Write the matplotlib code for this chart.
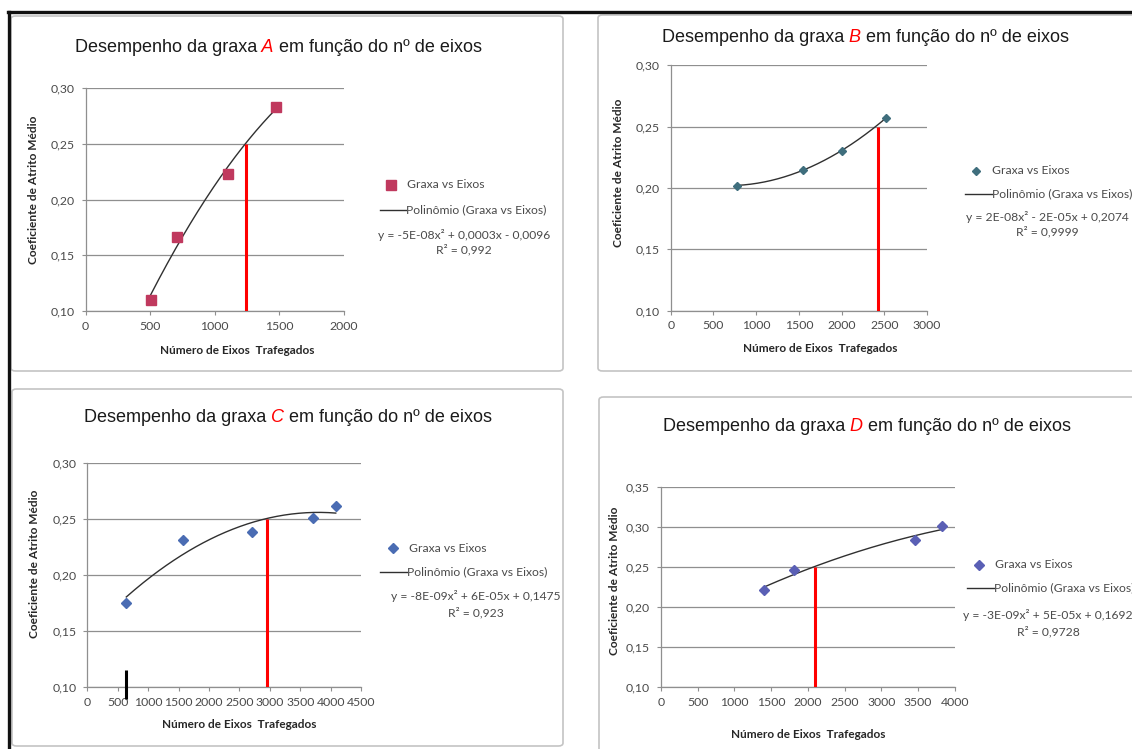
import numpy as np
import matplotlib
matplotlib.use('Agg')
import matplotlib.pyplot as plt
from matplotlib.lines import Line2D
from matplotlib.patches import FancyBboxPatch

W, H = 1132, 749

# ensaios: número de eixos trafegados x coeficiente de atrito médio
eixos_a = [505, 705, 1100, 1475]
atrito_a = [0.110, 0.166, 0.223, 0.283]
eixos_b = [780, 1545, 2005, 2515]
atrito_b = [0.202, 0.215, 0.230, 0.257]
eixos_c = [640, 1565, 2700, 3705, 4085]
atrito_c = [0.175, 0.231, 0.238, 0.251, 0.261]
eixos_d = [1400, 1805, 3465, 3830]
atrito_d = [0.221, 0.246, 0.283, 0.301]

# eixos em que o atrito chega a 0,25
limite_a, limite_b, limite_c, limite_d = 1240, 2425, 2955, 2100
atrito_limite = 0.25

eq_a = ['y = -5E-08x² + 0,0003x - 0,0096', 'R² = 0,992']
eq_b = ['y = 2E-08x² - 2E-05x + 0,2074', 'R² = 0,9999']
eq_c = ['y = -8E-09x² + 6E-05x + 0,1475', 'R² = 0,923']
eq_d = ['y = -3E-09x² + 5E-05x + 0,1692', 'R² = 0,9728']

xticks_a = [0, 500, 1000, 1500, 2000]
xticks_b = [0, 500, 1000, 1500, 2000, 2500, 3000]
xticks_c = [0, 500, 1000, 1500, 2000, 2500, 3000, 3500, 4000, 4500]
xticks_d = [0, 500, 1000, 1500, 2000, 2500, 3000, 3500, 4000]
yticks_abc = [0.10, 0.15, 0.20, 0.25, 0.30]
yticks_d = [0.10, 0.15, 0.20, 0.25, 0.30, 0.35]

plt.rcParams['font.family'] = ['Lato', 'DejaVu Sans']

fig = plt.figure(figsize=(W / 100, H / 100), dpi=100)
fig.patch.set_facecolor('white')


def fx(x):
    return x / W


def fy(y):
    return 1 - y / H


paineis = [
    dict(letra='A', x=eixos_a, y=atrito_a, lim=limite_a, eq=eq_a, xt=xticks_a, yt=yticks_abc,
         area=(85.5, 88, 343.7, 311), caixa=(11, 16, 563, 371),
         mk='s', ms=6.5, cor='#c0395e', titulo=(75, 47),
         xl=(237, 350), yl=(34, 190), leg=(391, 185, 380, 406, 210, 464, 235, 250)),
    dict(letra='B', x=eixos_b, y=atrito_b, lim=limite_b, eq=eq_b, xt=xticks_b, yt=yticks_abc,
         area=(670.7, 65.3, 927, 310.7), caixa=(598, 15, 1150, 371),
         mk='D', ms=4.2, cor='#3f6e7d', titulo=(662, 37),
         xl=(820, 348), yl=(618, 173), leg=(976, 171, 965, 992, 194, 1047, 217, 232)),
    dict(letra='C', x=eixos_c, y=atrito_c, lim=limite_c, eq=eq_c, xt=xticks_c, yt=yticks_abc,
         area=(87.4, 462.7, 361, 687.3), caixa=(12, 389, 563, 746),
         mk='D', ms=5, cor='#4a6cb3', titulo=(84, 418),
         xl=(239, 725), yl=(35, 564), leg=(393, 548, 380, 407, 572, 476, 596, 613)),
    dict(letra='D', x=eixos_d, y=atrito_d, lim=limite_d, eq=eq_d, xt=xticks_d, yt=yticks_d,
         area=(660.9, 486.7, 954.8, 687.3), caixa=(599, 397, 1150, 770),
         mk='D', ms=5, cor='#5a5fb5', titulo=(663, 427),
         xl=(808, 735), yl=(615, 581), leg=(979, 565, 967, 994, 588, 1048, 615, 632)),
]

cinza = '#8f8f8f'
texto = '#4a4a4a'
fonte_leg = 8.7

for p in paineis:
    # moldura do gráfico
    bx0, by0, bx1, by1 = p['caixa']
    fig.add_artist(FancyBboxPatch((fx(bx0), fy(by1)), (bx1 - bx0) / W, (by1 - by0) / H,
                                  boxstyle='round,pad=0,rounding_size=0.004',
                                  transform=fig.transFigure, facecolor='none',
                                  edgecolor='#c4c4c4', lw=1.2))

    x0, y0, x1, y1 = p['area']
    ax = fig.add_axes([fx(x0), fy(y1), (x1 - x0) / W, (y1 - y0) / H])
    ax.set_facecolor('none')
    ax.set_xlim(p['xt'][0], p['xt'][-1])
    ax.set_ylim(p['yt'][0], p['yt'][-1])
    ax.set_xticks(p['xt'])
    ax.set_xticklabels([str(v) for v in p['xt']])
    ax.set_yticks(p['yt'])
    ax.set_yticklabels([f'{v:.2f}'.replace('.', ',') for v in p['yt']])
    ax.tick_params(length=3, width=0.8, color=cinza, labelsize=8.8, labelcolor=texto)
    ax.tick_params(axis='x', pad=4)
    ax.tick_params(axis='y', pad=5)
    for s in ['top', 'right']:
        ax.spines[s].set_visible(False)
    for s in ['left', 'bottom']:
        ax.spines[s].set_color(cinza)
        ax.spines[s].set_linewidth(0.9)
    ax.yaxis.grid(True, color=cinza, lw=0.9)
    ax.set_axisbelow(True)

    # linha de tendência polinomial de 2º grau
    coef = np.polyfit(p['x'], p['y'], 2)
    xs = np.linspace(min(p['x']), max(p['x']), 200)
    ax.plot(xs, np.polyval(coef, xs), color='#303030', lw=1.0, zorder=3)
    ax.plot(p['x'], p['y'], linestyle='none', marker=p['mk'], ms=p['ms'],
            color=p['cor'], mec=p['cor'], zorder=4)

    # limite de atrito 0,25
    ax.vlines(p['lim'], p['yt'][0], atrito_limite, color='#ff0000', lw=2.2, zorder=5)

    if p['letra'] == 'C':
        ax.vlines(p['x'][0], 0.09, 0.115, color='black', lw=2.2, clip_on=False, zorder=6)

    # título com a letra da graxa em destaque
    tx, ty = p['titulo']
    t1 = fig.text(fx(tx), fy(ty), 'Desempenho da graxa', family='Liberation Sans',
                  fontsize=13, color='#1a1a1a', ha='left', va='center')
    t2 = ax.annotate(' ' + p['letra'], xy=(1, 0), xycoords=t1, ha='left', va='bottom',
                     family='Liberation Sans', fontsize=13, style='italic', color='#ff0000',
                     annotation_clip=False)
    ax.annotate(' em função do nº de eixos', xy=(1, 0), xycoords=t2, ha='left',
                va='bottom', family='Liberation Sans', fontsize=13, color='#1a1a1a',
                annotation_clip=False)

    # rótulos dos eixos
    fig.text(fx(p['xl'][0]), fy(p['xl'][1]), 'Número de Eixos  Trafegados', fontsize=8.5,
             fontweight='bold', color='#262626', ha='center', va='center')
    fig.text(fx(p['yl'][0]), fy(p['yl'][1]), 'Coeficiente de Atrito Médio', fontsize=8.6,
             fontweight='bold', color='#262626', ha='center', va='center', rotation=90)

    # legenda
    mx, my, lx0, lx1, ly, ex, ey, ry = p['leg']
    fig.add_artist(Line2D([fx(mx)], [fy(my)], marker=p['mk'], ms=p['ms'], color=p['cor'],
                          mec=p['cor'], linestyle='none', transform=fig.transFigure))
    fig.text(fx(mx + 16), fy(my), 'Graxa vs Eixos', fontsize=fonte_leg, color=texto,
             ha='left', va='center')
    fig.add_artist(Line2D([fx(lx0), fx(lx1)], [fy(ly), fy(ly)], color='#303030', lw=1.0,
                          transform=fig.transFigure))
    fig.text(fx(lx1), fy(ly), 'Polinômio (Graxa vs Eixos)', fontsize=fonte_leg, color=texto,
             ha='left', va='center')
    fig.text(fx(ex), fy(ey), p['eq'][0], fontsize=fonte_leg, color=texto,
             ha='center', va='center')
    fig.text(fx(ex), fy(ry), p['eq'][1], fontsize=fonte_leg, color=texto,
             ha='center', va='center')

# borda escura da janela
fig.add_artist(Line2D([fx(8), fx(W)], [fy(12), fy(12)], color='#111111', lw=2.4,
                      transform=fig.transFigure))
fig.add_artist(Line2D([fx(9), fx(9)], [fy(12), fy(H)], color='#111111', lw=2.4,
                      transform=fig.transFigure))

fig.savefig('out.png', dpi=100)
